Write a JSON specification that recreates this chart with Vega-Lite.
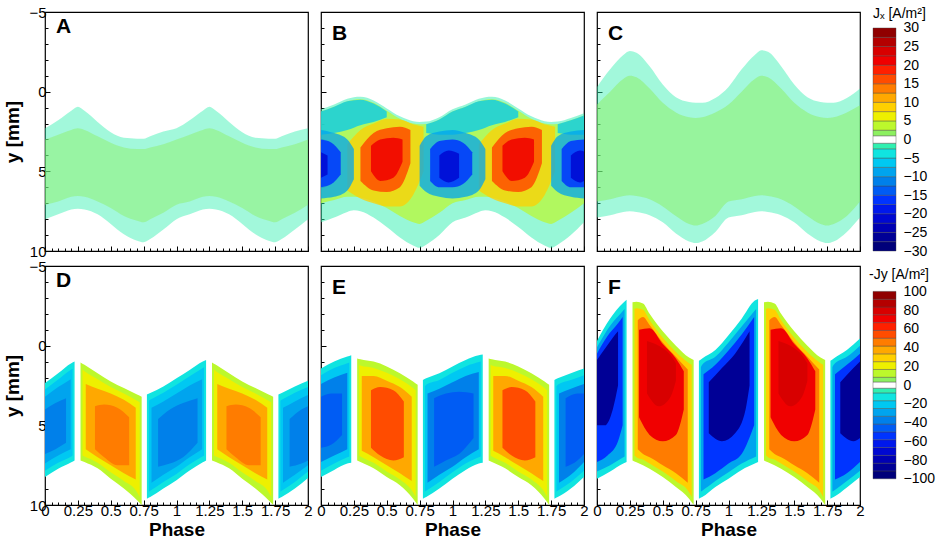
{
  "$schema": "https://vega.github.io/schema/vega-lite/v6.json",
  "padding": {"left": 3, "top": 4, "right": 2, "bottom": 0},
  "background": "white",
  "config": {
    "font": "Liberation Sans",
    "view": {"stroke": "#000", "strokeWidth": 1.2},
    "axis": {"labelFont": "Liberation Sans", "titleFont": "Liberation Sans", "labelFontSize": 15, "labelColor": "#000", "titleColor": "#000", "tickColor": "#000", "tickWidth": 1, "grid": false, "domain": false, "labelFlush": false, "labelOverlap": false, "labelBound": false, "titleFontSize": 19, "titleFontWeight": "bold"},
    "title": {"font": "Liberation Sans", "color": "#000"}
  },
  "datasets": {
    "grp": [
      {"g":"A1","p":"A","l":1,"v":-2,"d":0.45},{"g":"A2","p":"A","l":2,"v":2,"d":0.45},
      {"g":"C1","p":"C","l":1,"v":-2,"d":0.45},{"g":"C2","p":"C","l":2,"v":2,"d":0.5},
      {"g":"B1","p":"B","l":1,"v":-2,"d":0.5},{"g":"B2","p":"B","l":2,"v":3,"d":0.7},
      {"g":"Bh0","p":"B","l":3,"v":-7,"d":0.75},{"g":"Bh1","p":"B","l":3,"v":-7,"d":0.75},{"g":"Bh2","p":"B","l":3,"v":-7,"d":0.75},
      {"g":"Br0","p":"B","l":3,"v":8,"d":0.75},{"g":"Br1","p":"B","l":3,"v":8,"d":0.75},
      {"g":"Bb0","p":"B","l":3,"v":-10,"d":0.75},{"g":"Bb1","p":"B","l":3,"v":-10,"d":0.75},{"g":"Bb2","p":"B","l":3,"v":-10,"d":0.75},
      {"g":"Bq0","p":"B","l":4,"v":17,"d":0.85},{"g":"Bq1","p":"B","l":4,"v":17,"d":0.85},
      {"g":"Bc0","p":"B","l":4,"v":-16,"d":0.85},{"g":"Bc1","p":"B","l":4,"v":-16,"d":0.85},{"g":"Bc2","p":"B","l":4,"v":-16,"d":0.85},
      {"g":"Bs0","p":"B","l":5,"v":21,"d":0.85},{"g":"Bs1","p":"B","l":5,"v":21,"d":0.85},
      {"g":"Bi0","p":"B","l":5,"v":-21,"d":0.85},{"g":"Bi1","p":"B","l":5,"v":-21,"d":0.85},{"g":"Bi2","p":"B","l":5,"v":-21,"d":0.85},
      {"g":"D1a","p":"D","l":1,"v":-10,"d":1},{"g":"D1b","p":"D","l":1,"v":12,"d":1},{"g":"D1c","p":"D","l":1,"v":-10,"d":1},{"g":"D1d","p":"D","l":1,"v":12,"d":1},{"g":"D1e","p":"D","l":1,"v":-10,"d":1},
      {"g":"D2a","p":"D","l":2,"v":-20,"d":1},{"g":"D2b","p":"D","l":2,"v":22,"d":1},{"g":"D2c","p":"D","l":2,"v":-20,"d":1},{"g":"D2d","p":"D","l":2,"v":22,"d":1},{"g":"D2e","p":"D","l":2,"v":-20,"d":1},
      {"g":"D3a","p":"D","l":3,"v":-30,"d":1},{"g":"D3b","p":"D","l":3,"v":38,"d":1},{"g":"D3c","p":"D","l":3,"v":-30,"d":1},{"g":"D3d","p":"D","l":3,"v":38,"d":1},{"g":"D3e","p":"D","l":3,"v":-30,"d":1},
      {"g":"D4a","p":"D","l":4,"v":-40,"d":1},{"g":"D4b","p":"D","l":4,"v":45,"d":1},{"g":"D4c","p":"D","l":4,"v":-40,"d":1},{"g":"D4d","p":"D","l":4,"v":45,"d":1},{"g":"D4e","p":"D","l":4,"v":-40,"d":1},
      {"g":"E1a","p":"E","l":1,"v":-10,"d":1},{"g":"E1b","p":"E","l":1,"v":12,"d":1},{"g":"E1c","p":"E","l":1,"v":-10,"d":1},{"g":"E1d","p":"E","l":1,"v":12,"d":1},{"g":"E1e","p":"E","l":1,"v":-10,"d":1},
      {"g":"E2a","p":"E","l":2,"v":-22,"d":1},{"g":"E2b","p":"E","l":2,"v":22,"d":1},{"g":"E2c","p":"E","l":2,"v":-22,"d":1},{"g":"E2d","p":"E","l":2,"v":22,"d":1},{"g":"E2e","p":"E","l":2,"v":-22,"d":1},
      {"g":"E3a","p":"E","l":3,"v":-38,"d":1},{"g":"E3b","p":"E","l":3,"v":40,"d":1},{"g":"E3c","p":"E","l":3,"v":-38,"d":1},{"g":"E3d","p":"E","l":3,"v":40,"d":1},{"g":"E3e","p":"E","l":3,"v":-38,"d":1},
      {"g":"E4a","p":"E","l":4,"v":-48,"d":1},{"g":"E4b","p":"E","l":4,"v":55,"d":1},{"g":"E4c","p":"E","l":4,"v":-48,"d":1},{"g":"E4d","p":"E","l":4,"v":55,"d":1},{"g":"E4e","p":"E","l":4,"v":-48,"d":1},
      {"g":"F1a","p":"F","l":1,"v":-12,"d":1},{"g":"F1b","p":"F","l":1,"v":12,"d":1},{"g":"F1c","p":"F","l":1,"v":-12,"d":1},{"g":"F1d","p":"F","l":1,"v":12,"d":1},{"g":"F1e","p":"F","l":1,"v":-12,"d":1},
      {"g":"F2a","p":"F","l":2,"v":-30,"d":1},{"g":"F2b","p":"F","l":2,"v":28,"d":1},{"g":"F2c","p":"F","l":2,"v":-30,"d":1},{"g":"F2d","p":"F","l":2,"v":28,"d":1},{"g":"F2e","p":"F","l":2,"v":-30,"d":1},
      {"g":"F3a","p":"F","l":3,"v":-55,"d":1},{"g":"F3b","p":"F","l":3,"v":48,"d":1},{"g":"F3c","p":"F","l":3,"v":-55,"d":1},{"g":"F3d","p":"F","l":3,"v":48,"d":1},{"g":"F3e","p":"F","l":3,"v":-55,"d":1},
      {"g":"F4a","p":"F","l":4,"v":-85,"d":1},{"g":"F4b","p":"F","l":4,"v":70,"d":1},{"g":"F4c","p":"F","l":4,"v":-85,"d":1},{"g":"F4d","p":"F","l":4,"v":70,"d":1},{"g":"F4e","p":"F","l":4,"v":-85,"d":1},
      {"g":"F5b","p":"F","l":5,"v":80,"d":1},{"g":"F5d","p":"F","l":5,"v":80,"d":1}
    ],
    "pts": [
      {"g":"A1","x":0,"y":2.3,"y2":8.0},{"g":"A1","x":0.1,"y":1.8,"y2":7.7},{"g":"A1","x":0.2,"y":1.2,"y2":7.4},{"g":"A1","x":0.25,"y":0.95,"y2":7.35},{"g":"A1","x":0.3,"y":1.2,"y2":7.4},{"g":"A1","x":0.4,"y":1.9,"y2":7.7},{"g":"A1","x":0.5,"y":2.55,"y2":8.3},{"g":"A1","x":0.6,"y":2.9,"y2":8.95},{"g":"A1","x":0.7,"y":2.95,"y2":9.35},{"g":"A1","x":0.75,"y":2.95,"y2":9.45},{"g":"A1","x":0.8,"y":2.8,"y2":9.25},{"g":"A1","x":0.9,"y":2.5,"y2":8.65},
      {"g":"A1","x":1,"y":2.3,"y2":8.0},{"g":"A1","x":1.1,"y":1.8,"y2":7.7},{"g":"A1","x":1.2,"y":1.2,"y2":7.4},{"g":"A1","x":1.25,"y":0.95,"y2":7.35},{"g":"A1","x":1.3,"y":1.2,"y2":7.4},{"g":"A1","x":1.4,"y":1.9,"y2":7.7},{"g":"A1","x":1.5,"y":2.55,"y2":8.3},{"g":"A1","x":1.6,"y":2.9,"y2":8.95},{"g":"A1","x":1.7,"y":2.95,"y2":9.35},{"g":"A1","x":1.75,"y":2.95,"y2":9.45},{"g":"A1","x":1.8,"y":2.8,"y2":9.25},{"g":"A1","x":1.9,"y":2.5,"y2":8.65},{"g":"A1","x":2,"y":2.3,"y2":8.0},
      {"g":"A2","x":0,"y":3.0,"y2":7.1},{"g":"A2","x":0.1,"y":2.7,"y2":6.9},{"g":"A2","x":0.2,"y":2.4,"y2":6.6},{"g":"A2","x":0.25,"y":2.3,"y2":6.55},{"g":"A2","x":0.3,"y":2.4,"y2":6.6},{"g":"A2","x":0.4,"y":2.8,"y2":6.9},{"g":"A2","x":0.5,"y":3.2,"y2":7.3},{"g":"A2","x":0.6,"y":3.5,"y2":7.8},{"g":"A2","x":0.7,"y":3.6,"y2":8.1},{"g":"A2","x":0.75,"y":3.6,"y2":8.2},{"g":"A2","x":0.8,"y":3.5,"y2":8.0},{"g":"A2","x":0.9,"y":3.3,"y2":7.6},
      {"g":"A2","x":1,"y":3.0,"y2":7.1},{"g":"A2","x":1.1,"y":2.7,"y2":6.9},{"g":"A2","x":1.2,"y":2.4,"y2":6.6},{"g":"A2","x":1.25,"y":2.3,"y2":6.55},{"g":"A2","x":1.3,"y":2.4,"y2":6.6},{"g":"A2","x":1.4,"y":2.8,"y2":6.9},{"g":"A2","x":1.5,"y":3.2,"y2":7.3},{"g":"A2","x":1.6,"y":3.5,"y2":7.8},{"g":"A2","x":1.7,"y":3.6,"y2":8.1},{"g":"A2","x":1.75,"y":3.6,"y2":8.2},{"g":"A2","x":1.8,"y":3.5,"y2":8.0},{"g":"A2","x":1.9,"y":3.3,"y2":7.6},{"g":"A2","x":2,"y":3.0,"y2":7.1},
      {"g":"C1","x":0,"y":-0.3,"y2":7.9},{"g":"C1","x":0.1,"y":-1.4,"y2":7.75},{"g":"C1","x":0.2,"y":-2.3,"y2":7.55},{"g":"C1","x":0.25,"y":-2.55,"y2":7.5},{"g":"C1","x":0.3,"y":-2.45,"y2":7.55},{"g":"C1","x":0.4,"y":-1.6,"y2":7.75},{"g":"C1","x":0.5,"y":-0.45,"y2":8.2},{"g":"C1","x":0.6,"y":0.35,"y2":8.9},{"g":"C1","x":0.7,"y":0.65,"y2":9.4},{"g":"C1","x":0.75,"y":0.7,"y2":9.5},{"g":"C1","x":0.8,"y":0.7,"y2":9.4},{"g":"C1","x":0.9,"y":0.4,"y2":8.8},
      {"g":"C1","x":1,"y":-0.3,"y2":7.9},{"g":"C1","x":1.1,"y":-1.4,"y2":7.75},{"g":"C1","x":1.2,"y":-2.3,"y2":7.55},{"g":"C1","x":1.25,"y":-2.6,"y2":7.5},{"g":"C1","x":1.3,"y":-2.5,"y2":7.55},{"g":"C1","x":1.4,"y":-1.6,"y2":7.75},{"g":"C1","x":1.5,"y":-0.45,"y2":8.2},{"g":"C1","x":1.6,"y":0.35,"y2":8.9},{"g":"C1","x":1.7,"y":0.65,"y2":9.4},{"g":"C1","x":1.75,"y":0.7,"y2":9.5},{"g":"C1","x":1.8,"y":0.7,"y2":9.4},{"g":"C1","x":1.9,"y":0.4,"y2":8.8},{"g":"C1","x":2,"y":-0.2,"y2":7.9},
      {"g":"C2","x":0,"y":0.8,"y2":6.9},{"g":"C2","x":0.1,"y":0.0,"y2":6.75},{"g":"C2","x":0.2,"y":-0.8,"y2":6.55},{"g":"C2","x":0.25,"y":-1.0,"y2":6.5},{"g":"C2","x":0.3,"y":-0.9,"y2":6.55},{"g":"C2","x":0.4,"y":-0.2,"y2":6.75},{"g":"C2","x":0.5,"y":0.7,"y2":7.2},{"g":"C2","x":0.6,"y":1.3,"y2":7.8},{"g":"C2","x":0.7,"y":1.6,"y2":8.3},{"g":"C2","x":0.75,"y":1.65,"y2":8.4},{"g":"C2","x":0.8,"y":1.6,"y2":8.3},{"g":"C2","x":0.9,"y":1.3,"y2":7.8},
      {"g":"C2","x":1,"y":0.8,"y2":6.9},{"g":"C2","x":1.1,"y":0.0,"y2":6.75},{"g":"C2","x":1.2,"y":-0.8,"y2":6.55},{"g":"C2","x":1.25,"y":-1.0,"y2":6.5},{"g":"C2","x":1.3,"y":-0.9,"y2":6.55},{"g":"C2","x":1.4,"y":-0.2,"y2":6.75},{"g":"C2","x":1.5,"y":0.7,"y2":7.2},{"g":"C2","x":1.6,"y":1.3,"y2":7.8},{"g":"C2","x":1.7,"y":1.6,"y2":8.3},{"g":"C2","x":1.75,"y":1.65,"y2":8.4},{"g":"C2","x":1.8,"y":1.6,"y2":8.3},{"g":"C2","x":1.9,"y":1.3,"y2":7.8},{"g":"C2","x":2,"y":0.85,"y2":6.9},
      {"g":"B1","x":0,"y":1.1,"y2":8.2},{"g":"B1","x":0.1,"y":0.8,"y2":7.9},{"g":"B1","x":0.2,"y":0.45,"y2":7.55},{"g":"B1","x":0.25,"y":0.35,"y2":7.45},{"g":"B1","x":0.3,"y":0.32,"y2":7.5},{"g":"B1","x":0.4,"y":0.55,"y2":7.9},{"g":"B1","x":0.5,"y":1.05,"y2":8.5},{"g":"B1","x":0.6,"y":1.55,"y2":9.15},{"g":"B1","x":0.7,"y":1.85,"y2":9.65},{"g":"B1","x":0.75,"y":1.9,"y2":9.8},{"g":"B1","x":0.8,"y":1.88,"y2":9.6},{"g":"B1","x":0.9,"y":1.6,"y2":9.0},
      {"g":"B1","x":1,"y":1.1,"y2":8.2},{"g":"B1","x":1.1,"y":0.8,"y2":7.9},{"g":"B1","x":1.2,"y":0.45,"y2":7.55},{"g":"B1","x":1.25,"y":0.35,"y2":7.45},{"g":"B1","x":1.3,"y":0.32,"y2":7.5},{"g":"B1","x":1.4,"y":0.55,"y2":7.9},{"g":"B1","x":1.5,"y":1.05,"y2":8.5},{"g":"B1","x":1.6,"y":1.55,"y2":9.15},{"g":"B1","x":1.7,"y":1.85,"y2":9.65},{"g":"B1","x":1.75,"y":1.9,"y2":9.8},{"g":"B1","x":1.8,"y":1.88,"y2":9.6},{"g":"B1","x":1.9,"y":1.65,"y2":9.0},{"g":"B1","x":2,"y":1.35,"y2":8.2},
      {"g":"B2","x":0,"y":1.25,"y2":7.0},{"g":"B2","x":0.1,"y":0.95,"y2":6.8},{"g":"B2","x":0.2,"y":0.6,"y2":6.6},{"g":"B2","x":0.25,"y":0.5,"y2":6.6},{"g":"B2","x":0.3,"y":0.47,"y2":6.65},{"g":"B2","x":0.4,"y":0.7,"y2":6.9},{"g":"B2","x":0.5,"y":1.2,"y2":7.3},{"g":"B2","x":0.6,"y":1.7,"y2":7.8},{"g":"B2","x":0.7,"y":2.0,"y2":8.2},{"g":"B2","x":0.75,"y":2.05,"y2":8.3},{"g":"B2","x":0.8,"y":2.03,"y2":8.1},{"g":"B2","x":0.9,"y":1.75,"y2":7.6},
      {"g":"B2","x":1,"y":1.25,"y2":7.0},{"g":"B2","x":1.1,"y":0.95,"y2":6.8},{"g":"B2","x":1.2,"y":0.6,"y2":6.6},{"g":"B2","x":1.25,"y":0.5,"y2":6.6},{"g":"B2","x":1.3,"y":0.47,"y2":6.65},{"g":"B2","x":1.4,"y":0.7,"y2":6.9},{"g":"B2","x":1.5,"y":1.2,"y2":7.3},{"g":"B2","x":1.6,"y":1.7,"y2":7.8},{"g":"B2","x":1.7,"y":2.0,"y2":8.2},{"g":"B2","x":1.75,"y":2.05,"y2":8.3},{"g":"B2","x":1.8,"y":2.03,"y2":8.1},{"g":"B2","x":1.9,"y":1.8,"y2":7.6},{"g":"B2","x":2,"y":1.5,"y2":7.0},
      {"g":"Bh0","x":0,"y":1.25,"y2":2.7},{"g":"Bh0","x":0.1,"y":0.95,"y2":2.6},{"g":"Bh0","x":0.2,"y":0.6,"y2":2.4},{"g":"Bh0","x":0.3,"y":0.5,"y2":2.1},{"g":"Bh0","x":0.4,"y":0.75,"y2":1.9},{"g":"Bh0","x":0.5,"y":1.25,"y2":1.6},
      {"g":"Bh1","x":0.8,"y":2.05,"y2":2.6},{"g":"Bh1","x":0.9,"y":1.75,"y2":2.7},{"g":"Bh1","x":1,"y":1.25,"y2":2.7},{"g":"Bh1","x":1.1,"y":0.95,"y2":2.6},{"g":"Bh1","x":1.2,"y":0.6,"y2":2.4},{"g":"Bh1","x":1.3,"y":0.5,"y2":2.1},{"g":"Bh1","x":1.4,"y":0.75,"y2":1.9},{"g":"Bh1","x":1.5,"y":1.25,"y2":1.6},
      {"g":"Bh2","x":1.8,"y":2.05,"y2":2.6},{"g":"Bh2","x":1.9,"y":1.8,"y2":2.7},{"g":"Bh2","x":2,"y":1.5,"y2":2.7},
      {"g":"Br0","x":0.2,"y":3.3,"y2":6.2},{"g":"Br0","x":0.3,"y":2.4,"y2":6.7},{"g":"Br0","x":0.4,"y":2.0,"y2":7.0},{"g":"Br0","x":0.5,"y":1.7,"y2":7.2},{"g":"Br0","x":0.6,"y":1.75,"y2":7.2},{"g":"Br0","x":0.7,"y":2.05,"y2":6.5},{"g":"Br0","x":0.78,"y":2.2,"y2":5.0},
      {"g":"Br1","x":1.2,"y":3.3,"y2":6.2},{"g":"Br1","x":1.3,"y":2.4,"y2":6.7},{"g":"Br1","x":1.4,"y":2.0,"y2":7.0},{"g":"Br1","x":1.5,"y":1.7,"y2":7.2},{"g":"Br1","x":1.6,"y":1.75,"y2":7.2},{"g":"Br1","x":1.7,"y":2.05,"y2":6.5},{"g":"Br1","x":1.78,"y":2.2,"y2":5.0},
      {"g":"Bb0","x":0,"y":2.4,"y2":6.7},{"g":"Bb0","x":0.1,"y":2.6,"y2":6.6},{"g":"Bb0","x":0.2,"y":3.0,"y2":6.2},{"g":"Bb0","x":0.25,"y":3.6,"y2":5.5},
      {"g":"Bb1","x":0.75,"y":3.4,"y2":5.9},{"g":"Bb1","x":0.8,"y":2.8,"y2":6.3},{"g":"Bb1","x":0.9,"y":2.5,"y2":6.6},{"g":"Bb1","x":1,"y":2.4,"y2":6.7},{"g":"Bb1","x":1.1,"y":2.6,"y2":6.6},{"g":"Bb1","x":1.2,"y":3.0,"y2":6.2},{"g":"Bb1","x":1.25,"y":3.6,"y2":5.5},
      {"g":"Bb2","x":1.75,"y":3.4,"y2":5.9},{"g":"Bb2","x":1.8,"y":2.8,"y2":6.3},{"g":"Bb2","x":1.9,"y":2.5,"y2":6.6},{"g":"Bb2","x":2,"y":2.4,"y2":6.7},
      {"g":"Bq0","x":0.3,"y":3.5,"y2":5.6},{"g":"Bq0","x":0.4,"y":2.6,"y2":6.2},{"g":"Bq0","x":0.5,"y":2.3,"y2":6.3},{"g":"Bq0","x":0.6,"y":2.2,"y2":6.0},{"g":"Bq0","x":0.68,"y":2.4,"y2":4.5},
      {"g":"Bq1","x":1.3,"y":3.5,"y2":5.6},{"g":"Bq1","x":1.4,"y":2.6,"y2":6.2},{"g":"Bq1","x":1.5,"y":2.3,"y2":6.3},{"g":"Bq1","x":1.6,"y":2.2,"y2":6.0},{"g":"Bq1","x":1.68,"y":2.4,"y2":4.5},
      {"g":"Bc0","x":0,"y":3.0,"y2":6.0},{"g":"Bc0","x":0.08,"y":3.2,"y2":5.8},{"g":"Bc0","x":0.15,"y":3.8,"y2":5.2},
      {"g":"Bc1","x":0.83,"y":3.6,"y2":5.6},{"g":"Bc1","x":0.9,"y":3.1,"y2":6.0},{"g":"Bc1","x":1,"y":3.0,"y2":6.0},{"g":"Bc1","x":1.08,"y":3.2,"y2":5.8},{"g":"Bc1","x":1.15,"y":3.8,"y2":5.2},
      {"g":"Bc2","x":1.83,"y":3.6,"y2":5.6},{"g":"Bc2","x":1.9,"y":3.1,"y2":6.0},{"g":"Bc2","x":2,"y":3.0,"y2":6.0},
      {"g":"Bs0","x":0.38,"y":3.4,"y2":5.0},{"g":"Bs0","x":0.45,"y":3.0,"y2":5.6},{"g":"Bs0","x":0.55,"y":2.9,"y2":5.4},{"g":"Bs0","x":0.62,"y":3.0,"y2":4.4},
      {"g":"Bs1","x":1.38,"y":3.4,"y2":5.0},{"g":"Bs1","x":1.45,"y":3.0,"y2":5.6},{"g":"Bs1","x":1.55,"y":2.9,"y2":5.4},{"g":"Bs1","x":1.62,"y":3.0,"y2":4.4},
      {"g":"Bi0","x":0,"y":3.8,"y2":5.4},{"g":"Bi0","x":0.05,"y":4.0,"y2":5.2},
      {"g":"Bi1","x":0.9,"y":4.0,"y2":5.4},{"g":"Bi1","x":0.97,"y":3.7,"y2":5.7},{"g":"Bi1","x":1.05,"y":3.9,"y2":5.4},
      {"g":"Bi2","x":1.9,"y":4.0,"y2":5.4},{"g":"Bi2","x":1.97,"y":3.7,"y2":5.7},{"g":"Bi2","x":2,"y":3.75,"y2":5.6},

      {"g":"D1a","x":0,"y":2.35,"y2":8.25},{"g":"D1a","x":0.1,"y":1.73,"y2":7.73},{"g":"D1a","x":0.2,"y":1.1,"y2":7.32},{"g":"D1a","x":0.225,"y":1.0,"y2":7.2},
      {"g":"D1b","x":0.27,"y":1.05,"y2":7.2},{"g":"D1b","x":0.3,"y":1.2,"y2":7.3},{"g":"D1b","x":0.4,"y":1.73,"y2":7.7},{"g":"D1b","x":0.5,"y":2.25,"y2":8.35},{"g":"D1b","x":0.6,"y":2.66,"y2":8.97},{"g":"D1b","x":0.7,"y":3.07,"y2":9.7},{"g":"D1b","x":0.735,"y":3.2,"y2":10},
      {"g":"D1c","x":0.775,"y":3.07,"y2":9.6},{"g":"D1c","x":0.8,"y":2.97,"y2":9.5},{"g":"D1c","x":0.9,"y":2.56,"y2":8.97},{"g":"D1c","x":1,"y":2.04,"y2":8.45},{"g":"D1c","x":1.1,"y":1.52,"y2":7.84},{"g":"D1c","x":1.2,"y":1.0,"y2":7.32},{"g":"D1c","x":1.225,"y":0.9,"y2":7.2},
      {"g":"D1d","x":1.27,"y":1.05,"y2":7.2},{"g":"D1d","x":1.3,"y":1.2,"y2":7.3},{"g":"D1d","x":1.4,"y":1.73,"y2":7.7},{"g":"D1d","x":1.5,"y":2.25,"y2":8.35},{"g":"D1d","x":1.6,"y":2.66,"y2":8.97},{"g":"D1d","x":1.7,"y":3.07,"y2":9.7},{"g":"D1d","x":1.735,"y":3.2,"y2":10},
      {"g":"D1e","x":1.775,"y":3.07,"y2":9.6},{"g":"D1e","x":1.8,"y":2.97,"y2":9.5},{"g":"D1e","x":1.9,"y":2.56,"y2":8.97},{"g":"D1e","x":2,"y":2.2,"y2":8.3},
      {"g":"D2a","x":0,"y":2.75,"y2":7.85},{"g":"D2a","x":0.1,"y":2.13,"y2":7.35},{"g":"D2a","x":0.2,"y":1.5,"y2":6.95},{"g":"D2a","x":0.21,"y":1.45,"y2":6.9},
      {"g":"D2b","x":0.285,"y":1.5,"y2":6.9},{"g":"D2b","x":0.3,"y":1.6,"y2":6.95},{"g":"D2b","x":0.4,"y":2.1,"y2":7.35},{"g":"D2b","x":0.5,"y":2.6,"y2":7.95},{"g":"D2b","x":0.6,"y":3.0,"y2":8.5},{"g":"D2b","x":0.7,"y":3.45,"y2":9.2},{"g":"D2b","x":0.72,"y":3.55,"y2":9.5},
      {"g":"D2c","x":0.79,"y":3.45,"y2":9.15},{"g":"D2c","x":0.8,"y":3.4,"y2":9.1},{"g":"D2c","x":0.9,"y":2.95,"y2":8.55},{"g":"D2c","x":1,"y":2.45,"y2":8.05},{"g":"D2c","x":1.1,"y":1.92,"y2":7.45},{"g":"D2c","x":1.21,"y":1.35,"y2":6.9},
      {"g":"D2d","x":1.285,"y":1.5,"y2":6.9},{"g":"D2d","x":1.3,"y":1.6,"y2":6.95},{"g":"D2d","x":1.4,"y":2.1,"y2":7.35},{"g":"D2d","x":1.5,"y":2.6,"y2":7.95},{"g":"D2d","x":1.6,"y":3.0,"y2":8.5},{"g":"D2d","x":1.7,"y":3.45,"y2":9.2},{"g":"D2d","x":1.72,"y":3.55,"y2":9.5},
      {"g":"D2e","x":1.79,"y":3.45,"y2":9.15},{"g":"D2e","x":1.8,"y":3.4,"y2":9.1},{"g":"D2e","x":1.9,"y":2.95,"y2":8.55},{"g":"D2e","x":2,"y":2.6,"y2":7.9},
      {"g":"D3a","x":0,"y":3.2,"y2":7.4},{"g":"D3a","x":0.1,"y":2.6,"y2":6.9},{"g":"D3a","x":0.195,"y":2.1,"y2":6.5},
      {"g":"D3b","x":0.31,"y":2.4,"y2":6.5},{"g":"D3b","x":0.4,"y":2.7,"y2":7.0},{"g":"D3b","x":0.5,"y":3.0,"y2":7.5},{"g":"D3b","x":0.6,"y":3.4,"y2":8.0},{"g":"D3b","x":0.69,"y":3.9,"y2":8.4},
      {"g":"D3c","x":0.81,"y":3.9,"y2":8.6},{"g":"D3c","x":0.9,"y":3.5,"y2":8.1},{"g":"D3c","x":1,"y":3.0,"y2":7.6},{"g":"D3c","x":1.1,"y":2.5,"y2":7.0},{"g":"D3c","x":1.195,"y":2.1,"y2":6.5},
      {"g":"D3d","x":1.31,"y":2.4,"y2":6.5},{"g":"D3d","x":1.4,"y":2.7,"y2":7.0},{"g":"D3d","x":1.5,"y":3.0,"y2":7.5},{"g":"D3d","x":1.6,"y":3.4,"y2":8.0},{"g":"D3d","x":1.69,"y":3.9,"y2":8.4},
      {"g":"D3e","x":1.81,"y":3.9,"y2":8.6},{"g":"D3e","x":1.9,"y":3.5,"y2":8.1},{"g":"D3e","x":2,"y":3.1,"y2":7.5},
      {"g":"D4a","x":0,"y":4.0,"y2":6.8},{"g":"D4a","x":0.08,"y":3.6,"y2":6.5},{"g":"D4a","x":0.16,"y":3.3,"y2":6.1},
      {"g":"D4b","x":0.38,"y":3.8,"y2":6.5},{"g":"D4b","x":0.45,"y":3.7,"y2":7.0},{"g":"D4b","x":0.55,"y":3.9,"y2":7.5},{"g":"D4b","x":0.64,"y":4.5,"y2":7.5},
      {"g":"D4c","x":0.86,"y":4.6,"y2":7.6},{"g":"D4c","x":0.95,"y":4.0,"y2":7.4},{"g":"D4c","x":1.05,"y":3.6,"y2":7.0},{"g":"D4c","x":1.16,"y":3.3,"y2":6.1},
      {"g":"D4d","x":1.38,"y":3.8,"y2":6.5},{"g":"D4d","x":1.45,"y":3.7,"y2":7.0},{"g":"D4d","x":1.55,"y":3.9,"y2":7.5},{"g":"D4d","x":1.64,"y":4.5,"y2":7.5},
      {"g":"D4e","x":1.86,"y":4.6,"y2":7.6},{"g":"D4e","x":1.95,"y":4.0,"y2":7.4},{"g":"D4e","x":2,"y":3.8,"y2":7.2},

      {"g":"E1a","x":0,"y":1.43,"y2":8.24},{"g":"E1a","x":0.1,"y":1.0,"y2":7.8},{"g":"E1a","x":0.2,"y":0.68,"y2":7.4},{"g":"E1a","x":0.23,"y":0.6,"y2":7.35},
      {"g":"E1b","x":0.275,"y":0.8,"y2":7.2},{"g":"E1b","x":0.3,"y":0.85,"y2":7.3},{"g":"E1b","x":0.4,"y":1.0,"y2":7.7},{"g":"E1b","x":0.5,"y":1.3,"y2":8.25},{"g":"E1b","x":0.6,"y":1.73,"y2":8.76},{"g":"E1b","x":0.7,"y":2.25,"y2":9.6},{"g":"E1b","x":0.735,"y":2.46,"y2":10},
      {"g":"E1c","x":0.775,"y":2.15,"y2":9.6},{"g":"E1c","x":0.8,"y":2.05,"y2":9.5},{"g":"E1c","x":0.9,"y":1.73,"y2":8.97},{"g":"E1c","x":1,"y":1.3,"y2":8.35},{"g":"E1c","x":1.1,"y":0.9,"y2":7.8},{"g":"E1c","x":1.2,"y":0.6,"y2":7.4},{"g":"E1c","x":1.23,"y":0.56,"y2":7.35},
      {"g":"E1d","x":1.275,"y":0.8,"y2":7.2},{"g":"E1d","x":1.3,"y":0.85,"y2":7.3},{"g":"E1d","x":1.4,"y":1.0,"y2":7.7},{"g":"E1d","x":1.5,"y":1.3,"y2":8.25},{"g":"E1d","x":1.6,"y":1.73,"y2":8.76},{"g":"E1d","x":1.7,"y":2.25,"y2":9.6},{"g":"E1d","x":1.735,"y":2.46,"y2":10},
      {"g":"E1e","x":1.775,"y":2.15,"y2":9.6},{"g":"E1e","x":1.8,"y":2.05,"y2":9.5},{"g":"E1e","x":1.9,"y":1.73,"y2":8.97},{"g":"E1e","x":2,"y":1.43,"y2":8.24},
      {"g":"E2a","x":0,"y":1.85,"y2":7.85},{"g":"E2a","x":0.1,"y":1.4,"y2":7.4},{"g":"E2a","x":0.2,"y":1.1,"y2":7.0},{"g":"E2a","x":0.215,"y":1.05,"y2":6.95},
      {"g":"E2b","x":0.29,"y":1.2,"y2":6.9},{"g":"E2b","x":0.3,"y":1.25,"y2":6.95},{"g":"E2b","x":0.4,"y":1.4,"y2":7.35},{"g":"E2b","x":0.5,"y":1.7,"y2":7.9},{"g":"E2b","x":0.6,"y":2.1,"y2":8.4},{"g":"E2b","x":0.7,"y":2.65,"y2":9.2},{"g":"E2b","x":0.72,"y":2.8,"y2":9.5},
      {"g":"E2c","x":0.79,"y":2.55,"y2":9.15},{"g":"E2c","x":0.8,"y":2.45,"y2":9.1},{"g":"E2c","x":0.9,"y":2.15,"y2":8.55},{"g":"E2c","x":1,"y":1.7,"y2":7.95},{"g":"E2c","x":1.1,"y":1.3,"y2":7.4},{"g":"E2c","x":1.215,"y":1.0,"y2":6.95},
      {"g":"E2d","x":1.29,"y":1.2,"y2":6.9},{"g":"E2d","x":1.3,"y":1.25,"y2":6.95},{"g":"E2d","x":1.4,"y":1.4,"y2":7.35},{"g":"E2d","x":1.5,"y":1.7,"y2":7.9},{"g":"E2d","x":1.6,"y":2.1,"y2":8.4},{"g":"E2d","x":1.7,"y":2.65,"y2":9.2},{"g":"E2d","x":1.72,"y":2.8,"y2":9.5},
      {"g":"E2e","x":1.79,"y":2.55,"y2":9.15},{"g":"E2e","x":1.8,"y":2.45,"y2":9.1},{"g":"E2e","x":1.9,"y":2.15,"y2":8.55},{"g":"E2e","x":2,"y":1.85,"y2":7.85},
      {"g":"E3a","x":0,"y":2.4,"y2":7.3},{"g":"E3a","x":0.1,"y":2.0,"y2":6.9},{"g":"E3a","x":0.2,"y":1.7,"y2":6.5},
      {"g":"E3b","x":0.31,"y":1.9,"y2":6.6},{"g":"E3b","x":0.4,"y":1.9,"y2":7.0},{"g":"E3b","x":0.5,"y":2.2,"y2":7.5},{"g":"E3b","x":0.6,"y":2.6,"y2":8.0},{"g":"E3b","x":0.69,"y":3.2,"y2":8.5},
      {"g":"E3c","x":0.81,"y":3.0,"y2":8.6},{"g":"E3c","x":0.9,"y":2.7,"y2":8.1},{"g":"E3c","x":1,"y":2.3,"y2":7.6},{"g":"E3c","x":1.1,"y":1.9,"y2":7.0},{"g":"E3c","x":1.2,"y":1.65,"y2":6.5},
      {"g":"E3d","x":1.31,"y":1.9,"y2":6.6},{"g":"E3d","x":1.4,"y":1.9,"y2":7.0},{"g":"E3d","x":1.5,"y":2.2,"y2":7.5},{"g":"E3d","x":1.6,"y":2.6,"y2":8.0},{"g":"E3d","x":1.69,"y":3.2,"y2":8.5},
      {"g":"E3e","x":1.81,"y":3.0,"y2":8.6},{"g":"E3e","x":1.9,"y":2.7,"y2":8.1},{"g":"E3e","x":2,"y":2.4,"y2":7.3},
      {"g":"E4a","x":0,"y":3.2,"y2":6.4},{"g":"E4a","x":0.08,"y":3.0,"y2":6.2},{"g":"E4a","x":0.16,"y":3.0,"y2":5.6},
      {"g":"E4b","x":0.38,"y":2.8,"y2":6.4},{"g":"E4b","x":0.45,"y":2.6,"y2":6.9},{"g":"E4b","x":0.55,"y":2.8,"y2":7.2},{"g":"E4b","x":0.63,"y":3.5,"y2":7.0},
      {"g":"E4c","x":0.86,"y":3.3,"y2":7.6},{"g":"E4c","x":0.95,"y":3.0,"y2":7.2},{"g":"E4c","x":1.05,"y":2.9,"y2":6.8},{"g":"E4c","x":1.16,"y":3.0,"y2":5.8},
      {"g":"E4d","x":1.38,"y":2.8,"y2":6.4},{"g":"E4d","x":1.45,"y":2.6,"y2":6.9},{"g":"E4d","x":1.55,"y":2.8,"y2":7.2},{"g":"E4d","x":1.63,"y":3.5,"y2":7.0},
      {"g":"E4e","x":1.86,"y":3.3,"y2":7.6},{"g":"E4e","x":1.95,"y":3.0,"y2":7.2},{"g":"E4e","x":2,"y":3.0,"y2":6.8},

      {"g":"F1a","x":0,"y":-0.3,"y2":8.36},{"g":"F1a","x":0.1,"y":-1.7,"y2":7.9},{"g":"F1a","x":0.2,"y":-2.7,"y2":7.4},{"g":"F1a","x":0.225,"y":-2.88,"y2":7.3},
      {"g":"F1b","x":0.27,"y":-2.72,"y2":7.2},{"g":"F1b","x":0.3,"y":-2.75,"y2":7.32},{"g":"F1b","x":0.35,"y":-2.65,"y2":7.5},{"g":"F1b","x":0.4,"y":-2.0,"y2":7.73},{"g":"F1b","x":0.5,"y":-0.9,"y2":8.25},{"g":"F1b","x":0.6,"y":0.0,"y2":8.87},{"g":"F1b","x":0.7,"y":0.75,"y2":9.6},{"g":"F1b","x":0.735,"y":0.9,"y2":10},
      {"g":"F1c","x":0.775,"y":0.95,"y2":9.6},{"g":"F1c","x":0.8,"y":0.8,"y2":9.5},{"g":"F1c","x":0.9,"y":0.27,"y2":8.87},{"g":"F1c","x":1,"y":-0.66,"y2":8.35},{"g":"F1c","x":1.1,"y":-1.69,"y2":7.8},{"g":"F1c","x":1.2,"y":-2.83,"y2":7.4},{"g":"F1c","x":1.225,"y":-2.93,"y2":7.3},
      {"g":"F1d","x":1.27,"y":-2.72,"y2":7.2},{"g":"F1d","x":1.3,"y":-2.75,"y2":7.32},{"g":"F1d","x":1.35,"y":-2.65,"y2":7.5},{"g":"F1d","x":1.4,"y":-2.0,"y2":7.73},{"g":"F1d","x":1.5,"y":-0.9,"y2":8.25},{"g":"F1d","x":1.6,"y":0.0,"y2":8.87},{"g":"F1d","x":1.7,"y":0.75,"y2":9.6},{"g":"F1d","x":1.735,"y":0.9,"y2":10},
      {"g":"F1e","x":1.775,"y":0.95,"y2":9.6},{"g":"F1e","x":1.8,"y":0.8,"y2":9.5},{"g":"F1e","x":1.9,"y":0.27,"y2":8.9},{"g":"F1e","x":2,"y":-0.45,"y2":8.24},
      {"g":"F2a","x":0,"y":0.1,"y2":7.9},{"g":"F2a","x":0.1,"y":-1.25,"y2":7.5},{"g":"F2a","x":0.2,"y":-2.2,"y2":7.0},{"g":"F2a","x":0.21,"y":-2.3,"y2":6.95},
      {"g":"F2b","x":0.285,"y":-2.3,"y2":6.9},{"g":"F2b","x":0.3,"y":-2.35,"y2":7.0},{"g":"F2b","x":0.35,"y":-2.25,"y2":7.15},{"g":"F2b","x":0.4,"y":-1.6,"y2":7.4},{"g":"F2b","x":0.5,"y":-0.5,"y2":7.9},{"g":"F2b","x":0.6,"y":0.4,"y2":8.5},{"g":"F2b","x":0.7,"y":1.1,"y2":9.2},{"g":"F2b","x":0.72,"y":1.2,"y2":9.5},
      {"g":"F2c","x":0.79,"y":1.35,"y2":9.15},{"g":"F2c","x":0.8,"y":1.2,"y2":9.1},{"g":"F2c","x":0.9,"y":0.7,"y2":8.5},{"g":"F2c","x":1,"y":-0.2,"y2":7.95},{"g":"F2c","x":1.1,"y":-1.2,"y2":7.4},{"g":"F2c","x":1.21,"y":-2.3,"y2":6.95},
      {"g":"F2d","x":1.285,"y":-2.3,"y2":6.9},{"g":"F2d","x":1.3,"y":-2.35,"y2":7.0},{"g":"F2d","x":1.35,"y":-2.25,"y2":7.15},{"g":"F2d","x":1.4,"y":-1.6,"y2":7.4},{"g":"F2d","x":1.5,"y":-0.5,"y2":7.9},{"g":"F2d","x":1.6,"y":0.4,"y2":8.5},{"g":"F2d","x":1.7,"y":1.1,"y2":9.2},{"g":"F2d","x":1.72,"y":1.2,"y2":9.5},
      {"g":"F2e","x":1.79,"y":1.35,"y2":9.15},{"g":"F2e","x":1.8,"y":1.2,"y2":9.1},{"g":"F2e","x":1.9,"y":0.7,"y2":8.5},{"g":"F2e","x":2,"y":0.0,"y2":7.85},
      {"g":"F3a","x":0,"y":0.5,"y2":7.3},{"g":"F3a","x":0.08,"y":-0.6,"y2":6.9},{"g":"F3a","x":0.16,"y":-1.4,"y2":6.0},{"g":"F3a","x":0.195,"y":-1.8,"y2":5.0},
      {"g":"F3b","x":0.31,"y":-1.6,"y2":6.5},{"g":"F3b","x":0.35,"y":-1.8,"y2":6.8},{"g":"F3b","x":0.4,"y":-1.3,"y2":7.0},{"g":"F3b","x":0.5,"y":-0.2,"y2":7.5},{"g":"F3b","x":0.6,"y":0.7,"y2":8.0},{"g":"F3b","x":0.69,"y":1.5,"y2":8.6},
      {"g":"F3c","x":0.81,"y":1.8,"y2":8.4},{"g":"F3c","x":0.9,"y":1.2,"y2":8.0},{"g":"F3c","x":1,"y":0.3,"y2":7.4},{"g":"F3c","x":1.1,"y":-0.7,"y2":6.8},{"g":"F3c","x":1.195,"y":-1.8,"y2":5.0},
      {"g":"F3d","x":1.31,"y":-1.6,"y2":6.5},{"g":"F3d","x":1.35,"y":-1.8,"y2":6.8},{"g":"F3d","x":1.4,"y":-1.3,"y2":7.0},{"g":"F3d","x":1.5,"y":-0.2,"y2":7.5},{"g":"F3d","x":1.6,"y":0.7,"y2":8.0},{"g":"F3d","x":1.69,"y":1.5,"y2":8.6},
      {"g":"F3e","x":1.81,"y":1.8,"y2":8.4},{"g":"F3e","x":1.9,"y":1.2,"y2":8.0},{"g":"F3e","x":2,"y":0.5,"y2":7.3},
      {"g":"F4a","x":0,"y":0.9,"y2":5.0},{"g":"F4a","x":0.06,"y":0.2,"y2":5.0},{"g":"F4a","x":0.12,"y":-0.5,"y2":4.0},{"g":"F4a","x":0.16,"y":-0.9,"y2":2.5},
      {"g":"F4b","x":0.32,"y":-1.0,"y2":4.5},{"g":"F4b","x":0.4,"y":-1.1,"y2":5.6},{"g":"F4b","x":0.5,"y":-0.1,"y2":6.0},{"g":"F4b","x":0.6,"y":0.8,"y2":5.6},{"g":"F4b","x":0.66,"y":1.6,"y2":4.0},
      {"g":"F4c","x":0.85,"y":2.3,"y2":5.5},{"g":"F4c","x":0.95,"y":1.4,"y2":6.0},{"g":"F4c","x":1.05,"y":0.5,"y2":5.5},{"g":"F4c","x":1.13,"y":-0.5,"y2":4.0},{"g":"F4c","x":1.16,"y":-0.9,"y2":2.5},
      {"g":"F4d","x":1.32,"y":-1.0,"y2":4.5},{"g":"F4d","x":1.4,"y":-1.1,"y2":5.6},{"g":"F4d","x":1.5,"y":-0.1,"y2":6.0},{"g":"F4d","x":1.6,"y":0.8,"y2":5.6},{"g":"F4d","x":1.66,"y":1.6,"y2":4.0},
      {"g":"F4e","x":1.85,"y":2.3,"y2":5.5},{"g":"F4e","x":1.95,"y":1.4,"y2":6.0},{"g":"F4e","x":2,"y":1.0,"y2":5.8},
      {"g":"F5b","x":0.38,"y":-0.3,"y2":3.0},{"g":"F5b","x":0.47,"y":0.0,"y2":3.8},{"g":"F5b","x":0.56,"y":0.6,"y2":3.2},{"g":"F5b","x":0.6,"y":1.1,"y2":2.2},
      {"g":"F5d","x":1.38,"y":-0.3,"y2":3.0},{"g":"F5d","x":1.47,"y":0.0,"y2":3.8},{"g":"F5d","x":1.56,"y":0.6,"y2":3.2},{"g":"F5d","x":1.6,"y":1.1,"y2":2.2}
    ],
    "cbx": [
      {"lo":-30,"hi":-27.5,"v":-28.75},{"lo":-27.5,"hi":-25,"v":-26.25},{"lo":-25,"hi":-22.5,"v":-23.75},{"lo":-22.5,"hi":-20,"v":-21.25},{"lo":-20,"hi":-17.5,"v":-18.75},{"lo":-17.5,"hi":-15,"v":-16.25},{"lo":-15,"hi":-12.5,"v":-13.75},{"lo":-12.5,"hi":-10,"v":-11.25},{"lo":-10,"hi":-7.5,"v":-8.75},{"lo":-7.5,"hi":-5,"v":-6.25},{"lo":-5,"hi":-2.5,"v":-3.75},{"lo":-2.5,"hi":-1,"v":-1.75},{"lo":-1,"hi":1,"v":0},
      {"lo":1,"hi":2.5,"v":1.75},{"lo":2.5,"hi":5,"v":3.75},{"lo":5,"hi":7.5,"v":6.25},{"lo":7.5,"hi":10,"v":8.75},{"lo":10,"hi":12.5,"v":11.25},{"lo":12.5,"hi":15,"v":13.75},{"lo":15,"hi":17.5,"v":16.25},{"lo":17.5,"hi":20,"v":18.75},{"lo":20,"hi":22.5,"v":21.25},{"lo":22.5,"hi":25,"v":23.75},{"lo":25,"hi":27.5,"v":26.25},{"lo":27.5,"hi":30,"v":28.75}
    ],
    "cby": [
      {"lo":-100,"hi":-91.67,"v":-95.8},{"lo":-91.67,"hi":-83.33,"v":-87.5},{"lo":-83.33,"hi":-75,"v":-79.2},{"lo":-75,"hi":-66.67,"v":-70.8},{"lo":-66.67,"hi":-58.33,"v":-62.5},{"lo":-58.33,"hi":-50,"v":-54.2},{"lo":-50,"hi":-41.67,"v":-45.8},{"lo":-41.67,"hi":-33.33,"v":-37.5},{"lo":-33.33,"hi":-25,"v":-29.2},{"lo":-25,"hi":-16.67,"v":-20.8},{"lo":-16.67,"hi":-8.33,"v":-12.5},{"lo":-8.33,"hi":-3.33,"v":-5.8},{"lo":-3.33,"hi":3.33,"v":0},
      {"lo":3.33,"hi":8.33,"v":5.8},{"lo":8.33,"hi":16.67,"v":12.5},{"lo":16.67,"hi":25,"v":20.8},{"lo":25,"hi":33.33,"v":29.2},{"lo":33.33,"hi":41.67,"v":37.5},{"lo":41.67,"hi":50,"v":45.8},{"lo":50,"hi":58.33,"v":54.2},{"lo":58.33,"hi":66.67,"v":62.5},{"lo":66.67,"hi":75,"v":70.8},{"lo":75,"hi":83.33,"v":79.2},{"lo":83.33,"hi":91.67,"v":87.5},{"lo":91.67,"hi":100,"v":95.8}
    ]
  },
  "columns": 4,
  "spacing": {"row": 15, "column": 13},
  "bounds": "flush",
  "align": "each",
  "resolve": {"scale": {"color": "independent", "opacity": "independent", "x": "independent", "y": "independent"}},
  "concat": [
    {
      "width": 263, "height": 239,
      "title": {"text": "A", "anchor": "start", "frame": "group", "baseline": "top", "offset": -6, "dx": 11, "dy": 26, "fontSize": 21, "fontWeight": "bold"},
      "data": {"name": "pts"},
      "transform": [{"lookup": "g", "from": {"data": {"name": "grp"}, "key": "g", "fields": ["p", "l", "v", "d"]}}, {"filter": "datum.p === 'A'"}],
      "encoding": {
        "x": {"field": "x", "type": "quantitative", "scale": {"domain": [0, 2], "nice": false, "zero": false}, "axis": null},
        "y": {"field": "y", "type": "quantitative", "stack": null, "scale": {"domain": [-5, 10], "reverse": true, "nice": false, "zero": false}, "axis": null},
        "y2": {"field": "y2"},
        "detail": {"field": "g"},
        "color": {"field": "v", "type": "quantitative", "legend": null, "scale": {"type": "threshold", "domain": [-27.5,-25,-22.5,-20,-17.5,-15,-12.5,-10,-7.5,-5,-2.5,-1,1,2.5,5,7.5,10,12.5,15,17.5,20,22.5,25,27.5], "range": ["#00007a","#000096","#0000b4","#0008d2","#0018ec","#0034ff","#005cf4","#0080ea","#00a4ee","#00c8f2","#10e4e0","#30f0b0","#ffffff","#8cf060","#bcf82c","#eef000","#ffd000","#ffa800","#ff7c00","#ff4c00","#ff2000","#f00000","#d80000","#b40000","#900000"]}},
        "opacity": {"field": "d", "type": "quantitative", "legend": null, "scale": {"domain": [0, 1], "range": [0, 1]}}
      },
      "layer": [
        {"transform": [{"filter": "datum.l === 1"}], "mark": {"type": "area", "interpolate": "monotone"},
         "encoding": {
           "x": {"field": "x", "type": "quantitative", "scale": {"domain": [0, 2], "nice": false, "zero": false}, "axis": {"orient": "bottom", "values": [0,0.25,0.5,0.75,1,1.25,1.5,1.75,2], "tickSize": -5, "labels": false, "title": null}},
           "y": {"field": "y", "type": "quantitative", "stack": null, "scale": {"domain": [-5, 10], "reverse": true, "nice": false, "zero": false}, "axis": {"orient": "left", "values": [-5,0,5,10], "tickSize": -5, "labelPadding": 4, "title": "y [mm]", "titlePadding": 6}}
         }},
        {"transform": [{"filter": "datum.l === 2"}], "mark": {"type": "area", "interpolate": "monotone"},
         "encoding": {
           "x": {"field": "x", "type": "quantitative", "scale": {"domain": [0, 2], "nice": false, "zero": false}, "axis": {"orient": "bottom", "values": [0.05,0.1,0.15,0.2,0.3,0.35,0.4,0.45,0.55,0.6,0.65,0.7,0.8,0.85,0.9,0.95,1.05,1.1,1.15,1.2,1.3,1.35,1.4,1.45,1.55,1.6,1.65,1.7,1.8,1.85,1.9,1.95], "tickSize": -3, "labels": false, "title": null}},
           "y": {"field": "y", "type": "quantitative", "stack": null, "scale": {"domain": [-5, 10], "reverse": true, "nice": false, "zero": false}, "axis": {"orient": "left", "values": [-4,-3,-2,-1,1,2,3,4,6,7,8,9], "tickSize": -3, "labels": false, "title": null}}
         }}
      ],
      "resolve": {"axis": {"x": "independent", "y": "independent"}}
    },
    {
      "width": 263, "height": 239,
      "title": {"text": "B", "anchor": "start", "frame": "group", "baseline": "top", "offset": -6, "dx": 11, "dy": 26, "fontSize": 21, "fontWeight": "bold"},
      "data": {"name": "pts"},
      "transform": [{"lookup": "g", "from": {"data": {"name": "grp"}, "key": "g", "fields": ["p", "l", "v", "d"]}}, {"filter": "datum.p === 'B'"}],
      "encoding": {
        "x": {"field": "x", "type": "quantitative", "scale": {"domain": [0, 2], "nice": false, "zero": false}, "axis": null},
        "y": {"field": "y", "type": "quantitative", "stack": null, "scale": {"domain": [-5, 10], "reverse": true, "nice": false, "zero": false}, "axis": null},
        "y2": {"field": "y2"},
        "detail": {"field": "g"},
        "color": {"field": "v", "type": "quantitative", "legend": null, "scale": {"type": "threshold", "domain": [-27.5,-25,-22.5,-20,-17.5,-15,-12.5,-10,-7.5,-5,-2.5,-1,1,2.5,5,7.5,10,12.5,15,17.5,20,22.5,25,27.5], "range": ["#00007a","#000096","#0000b4","#0008d2","#0018ec","#0034ff","#005cf4","#0080ea","#00a4ee","#00c8f2","#10e4e0","#30f0b0","#ffffff","#8cf060","#bcf82c","#eef000","#ffd000","#ffa800","#ff7c00","#ff4c00","#ff2000","#f00000","#d80000","#b40000","#900000"]}},
        "opacity": {"field": "d", "type": "quantitative", "legend": null, "scale": {"domain": [0, 1], "range": [0, 1]}}
      },
      "layer": [
        {"transform": [{"filter": "datum.l === 1"}], "mark": {"type": "area", "interpolate": "monotone"},
         "encoding": {
           "x": {"field": "x", "type": "quantitative", "scale": {"domain": [0, 2], "nice": false, "zero": false}, "axis": {"orient": "bottom", "values": [0,0.25,0.5,0.75,1,1.25,1.5,1.75,2], "tickSize": -5, "labels": false, "title": null}},
           "y": {"field": "y", "type": "quantitative", "stack": null, "scale": {"domain": [-5, 10], "reverse": true, "nice": false, "zero": false}, "axis": {"orient": "left", "values": [-5,0,5,10], "tickSize": -5, "labels": false, "title": null}}
         }},
        {"transform": [{"filter": "datum.l === 2"}], "mark": {"type": "area", "interpolate": "monotone"},
         "encoding": {
           "x": {"field": "x", "type": "quantitative", "scale": {"domain": [0, 2], "nice": false, "zero": false}, "axis": {"orient": "bottom", "values": [0.05,0.1,0.15,0.2,0.3,0.35,0.4,0.45,0.55,0.6,0.65,0.7,0.8,0.85,0.9,0.95,1.05,1.1,1.15,1.2,1.3,1.35,1.4,1.45,1.55,1.6,1.65,1.7,1.8,1.85,1.9,1.95], "tickSize": -3, "labels": false, "title": null}},
           "y": {"field": "y", "type": "quantitative", "stack": null, "scale": {"domain": [-5, 10], "reverse": true, "nice": false, "zero": false}, "axis": {"orient": "left", "values": [-4,-3,-2,-1,1,2,3,4,6,7,8,9], "tickSize": -3, "labels": false, "title": null}}
         }},
        {"transform": [{"filter": "datum.l === 3"}], "mark": {"type": "area", "interpolate": "monotone"}},
        {"transform": [{"filter": "datum.l === 4"}], "mark": {"type": "area", "interpolate": "monotone"}},
        {"transform": [{"filter": "datum.l === 5"}], "mark": {"type": "area", "interpolate": "monotone"}}
      ],
      "resolve": {"axis": {"x": "independent", "y": "independent"}}
    },
    {
      "width": 263, "height": 239,
      "title": {"text": "C", "anchor": "start", "frame": "group", "baseline": "top", "offset": -6, "dx": 11, "dy": 26, "fontSize": 21, "fontWeight": "bold"},
      "data": {"name": "pts"},
      "transform": [{"lookup": "g", "from": {"data": {"name": "grp"}, "key": "g", "fields": ["p", "l", "v", "d"]}}, {"filter": "datum.p === 'C'"}],
      "encoding": {
        "x": {"field": "x", "type": "quantitative", "scale": {"domain": [0, 2], "nice": false, "zero": false}, "axis": null},
        "y": {"field": "y", "type": "quantitative", "stack": null, "scale": {"domain": [-5, 10], "reverse": true, "nice": false, "zero": false}, "axis": null},
        "y2": {"field": "y2"},
        "detail": {"field": "g"},
        "color": {"field": "v", "type": "quantitative", "legend": null, "scale": {"type": "threshold", "domain": [-27.5,-25,-22.5,-20,-17.5,-15,-12.5,-10,-7.5,-5,-2.5,-1,1,2.5,5,7.5,10,12.5,15,17.5,20,22.5,25,27.5], "range": ["#00007a","#000096","#0000b4","#0008d2","#0018ec","#0034ff","#005cf4","#0080ea","#00a4ee","#00c8f2","#10e4e0","#30f0b0","#ffffff","#8cf060","#bcf82c","#eef000","#ffd000","#ffa800","#ff7c00","#ff4c00","#ff2000","#f00000","#d80000","#b40000","#900000"]}},
        "opacity": {"field": "d", "type": "quantitative", "legend": null, "scale": {"domain": [0, 1], "range": [0, 1]}}
      },
      "layer": [
        {"transform": [{"filter": "datum.l === 1"}], "mark": {"type": "area", "interpolate": "monotone"},
         "encoding": {
           "x": {"field": "x", "type": "quantitative", "scale": {"domain": [0, 2], "nice": false, "zero": false}, "axis": {"orient": "bottom", "values": [0,0.25,0.5,0.75,1,1.25,1.5,1.75,2], "tickSize": -5, "labels": false, "title": null}},
           "y": {"field": "y", "type": "quantitative", "stack": null, "scale": {"domain": [-5, 10], "reverse": true, "nice": false, "zero": false}, "axis": {"orient": "left", "values": [-5,0,5,10], "tickSize": -5, "labels": false, "title": null}}
         }},
        {"transform": [{"filter": "datum.l === 2"}], "mark": {"type": "area", "interpolate": "monotone"},
         "encoding": {
           "x": {"field": "x", "type": "quantitative", "scale": {"domain": [0, 2], "nice": false, "zero": false}, "axis": {"orient": "bottom", "values": [0.05,0.1,0.15,0.2,0.3,0.35,0.4,0.45,0.55,0.6,0.65,0.7,0.8,0.85,0.9,0.95,1.05,1.1,1.15,1.2,1.3,1.35,1.4,1.45,1.55,1.6,1.65,1.7,1.8,1.85,1.9,1.95], "tickSize": -3, "labels": false, "title": null}},
           "y": {"field": "y", "type": "quantitative", "stack": null, "scale": {"domain": [-5, 10], "reverse": true, "nice": false, "zero": false}, "axis": {"orient": "left", "values": [-4,-3,-2,-1,1,2,3,4,6,7,8,9], "tickSize": -3, "labels": false, "title": null}}
         }}
      ],
      "resolve": {"axis": {"x": "independent", "y": "independent"}}
    },
    {
      "width": 23, "height": 239,
      "view": {"stroke": null},
      "title": {"text": "Jₓ [A/m²]", "anchor": "start", "frame": "group", "baseline": "alphabetic", "offset": -6, "dy": 14, "fontSize": 14, "fontWeight": "normal"},
      "data": {"name": "cbx"},
      "mark": {"type": "rect", "stroke": "#444", "strokeWidth": 0.4},
      "encoding": {
        "y": {"field": "lo", "type": "quantitative", "scale": {"domain": [-30, 34.3], "nice": false, "zero": false}, "axis": {"orient": "right", "values": [-30,-25,-20,-15,-10,-5,0,5,10,15,20,25,30], "tickSize": 0, "labelPadding": 7, "labelFontSize": 14, "title": null}},
        "y2": {"field": "hi"},
        "color": {"field": "v", "type": "quantitative", "legend": null, "scale": {"type": "threshold", "domain": [-27.5,-25,-22.5,-20,-17.5,-15,-12.5,-10,-7.5,-5,-2.5,-1,1,2.5,5,7.5,10,12.5,15,17.5,20,22.5,25,27.5], "range": ["#00007a","#000096","#0000b4","#0008d2","#0018ec","#0034ff","#005cf4","#0080ea","#00a4ee","#00c8f2","#10e4e0","#30f0b0","#ffffff","#8cf060","#bcf82c","#eef000","#ffd000","#ffa800","#ff7c00","#ff4c00","#ff2000","#f00000","#d80000","#b40000","#900000"]}}
      }
    },
    {
      "width": 263, "height": 239,
      "title": {"text": "D", "anchor": "start", "frame": "group", "baseline": "top", "offset": -6, "dx": 11, "dy": 26, "fontSize": 21, "fontWeight": "bold"},
      "data": {"name": "pts"},
      "transform": [{"lookup": "g", "from": {"data": {"name": "grp"}, "key": "g", "fields": ["p", "l", "v", "d"]}}, {"filter": "datum.p === 'D'"}],
      "encoding": {
        "x": {"field": "x", "type": "quantitative", "scale": {"domain": [0, 2], "nice": false, "zero": false}, "axis": null},
        "y": {"field": "y", "type": "quantitative", "stack": null, "scale": {"domain": [-5, 10], "reverse": true, "nice": false, "zero": false}, "axis": null},
        "y2": {"field": "y2"},
        "detail": {"field": "g"},
        "color": {"field": "v", "type": "quantitative", "legend": null, "scale": {"type": "threshold", "domain": [-91.67,-83.33,-75,-66.67,-58.33,-50,-41.67,-33.33,-25,-16.67,-8.33,-3.33,3.33,8.33,16.67,25,33.33,41.67,50,58.33,66.67,75,83.33,91.67], "range": ["#00007a","#000096","#0000b4","#0008d2","#0018ec","#0034ff","#005cf4","#0080ea","#00a4ee","#00c8f2","#10e4e0","#30f0b0","#ffffff","#8cf060","#bcf82c","#eef000","#ffd000","#ffa800","#ff7c00","#ff4c00","#ff2000","#f00000","#d80000","#b40000","#900000"]}},
        "opacity": {"field": "d", "type": "quantitative", "legend": null, "scale": {"domain": [0, 1], "range": [0, 1]}}
      },
      "layer": [
        {"transform": [{"filter": "datum.l === 1"}], "mark": {"type": "area", "interpolate": "monotone"},
         "encoding": {
           "x": {"field": "x", "type": "quantitative", "scale": {"domain": [0, 2], "nice": false, "zero": false}, "axis": {"orient": "bottom", "values": [0,0.25,0.5,0.75,1,1.25,1.5,1.75,2], "labelExpr": "toString(datum.value)", "tickSize": -5, "labelPadding": 3, "title": "Phase", "titlePadding": 2}},
           "y": {"field": "y", "type": "quantitative", "stack": null, "scale": {"domain": [-5, 10], "reverse": true, "nice": false, "zero": false}, "axis": {"orient": "left", "values": [-5,0,5,10], "tickSize": -5, "labelPadding": 4, "title": "y [mm]", "titlePadding": 6}}
         }},
        {"transform": [{"filter": "datum.l === 2"}], "mark": {"type": "area", "interpolate": "monotone"},
         "encoding": {
           "x": {"field": "x", "type": "quantitative", "scale": {"domain": [0, 2], "nice": false, "zero": false}, "axis": {"orient": "bottom", "values": [0.05,0.1,0.15,0.2,0.3,0.35,0.4,0.45,0.55,0.6,0.65,0.7,0.8,0.85,0.9,0.95,1.05,1.1,1.15,1.2,1.3,1.35,1.4,1.45,1.55,1.6,1.65,1.7,1.8,1.85,1.9,1.95], "tickSize": -3, "labels": false, "title": null}},
           "y": {"field": "y", "type": "quantitative", "stack": null, "scale": {"domain": [-5, 10], "reverse": true, "nice": false, "zero": false}, "axis": {"orient": "left", "values": [-4,-3,-2,-1,1,2,3,4,6,7,8,9], "tickSize": -3, "labels": false, "title": null}}
         }},
        {"transform": [{"filter": "datum.l === 3"}], "mark": {"type": "area", "interpolate": "monotone"}},
        {"transform": [{"filter": "datum.l === 4"}], "mark": {"type": "area", "interpolate": "monotone"}}
      ],
      "resolve": {"axis": {"x": "independent", "y": "independent"}}
    },
    {
      "width": 263, "height": 239,
      "title": {"text": "E", "anchor": "start", "frame": "group", "baseline": "top", "offset": -6, "dx": 11, "dy": 26, "fontSize": 21, "fontWeight": "bold"},
      "data": {"name": "pts"},
      "transform": [{"lookup": "g", "from": {"data": {"name": "grp"}, "key": "g", "fields": ["p", "l", "v", "d"]}}, {"filter": "datum.p === 'E'"}],
      "encoding": {
        "x": {"field": "x", "type": "quantitative", "scale": {"domain": [0, 2], "nice": false, "zero": false}, "axis": null},
        "y": {"field": "y", "type": "quantitative", "stack": null, "scale": {"domain": [-5, 10], "reverse": true, "nice": false, "zero": false}, "axis": null},
        "y2": {"field": "y2"},
        "detail": {"field": "g"},
        "color": {"field": "v", "type": "quantitative", "legend": null, "scale": {"type": "threshold", "domain": [-91.67,-83.33,-75,-66.67,-58.33,-50,-41.67,-33.33,-25,-16.67,-8.33,-3.33,3.33,8.33,16.67,25,33.33,41.67,50,58.33,66.67,75,83.33,91.67], "range": ["#00007a","#000096","#0000b4","#0008d2","#0018ec","#0034ff","#005cf4","#0080ea","#00a4ee","#00c8f2","#10e4e0","#30f0b0","#ffffff","#8cf060","#bcf82c","#eef000","#ffd000","#ffa800","#ff7c00","#ff4c00","#ff2000","#f00000","#d80000","#b40000","#900000"]}},
        "opacity": {"field": "d", "type": "quantitative", "legend": null, "scale": {"domain": [0, 1], "range": [0, 1]}}
      },
      "layer": [
        {"transform": [{"filter": "datum.l === 1"}], "mark": {"type": "area", "interpolate": "monotone"},
         "encoding": {
           "x": {"field": "x", "type": "quantitative", "scale": {"domain": [0, 2], "nice": false, "zero": false}, "axis": {"orient": "bottom", "values": [0,0.25,0.5,0.75,1,1.25,1.5,1.75,2], "labelExpr": "toString(datum.value)", "tickSize": -5, "labelPadding": 3, "title": "Phase", "titlePadding": 2}},
           "y": {"field": "y", "type": "quantitative", "stack": null, "scale": {"domain": [-5, 10], "reverse": true, "nice": false, "zero": false}, "axis": {"orient": "left", "values": [-5,0,5,10], "tickSize": -5, "labels": false, "title": null}}
         }},
        {"transform": [{"filter": "datum.l === 2"}], "mark": {"type": "area", "interpolate": "monotone"},
         "encoding": {
           "x": {"field": "x", "type": "quantitative", "scale": {"domain": [0, 2], "nice": false, "zero": false}, "axis": {"orient": "bottom", "values": [0.05,0.1,0.15,0.2,0.3,0.35,0.4,0.45,0.55,0.6,0.65,0.7,0.8,0.85,0.9,0.95,1.05,1.1,1.15,1.2,1.3,1.35,1.4,1.45,1.55,1.6,1.65,1.7,1.8,1.85,1.9,1.95], "tickSize": -3, "labels": false, "title": null}},
           "y": {"field": "y", "type": "quantitative", "stack": null, "scale": {"domain": [-5, 10], "reverse": true, "nice": false, "zero": false}, "axis": {"orient": "left", "values": [-4,-3,-2,-1,1,2,3,4,6,7,8,9], "tickSize": -3, "labels": false, "title": null}}
         }},
        {"transform": [{"filter": "datum.l === 3"}], "mark": {"type": "area", "interpolate": "monotone"}},
        {"transform": [{"filter": "datum.l === 4"}], "mark": {"type": "area", "interpolate": "monotone"}}
      ],
      "resolve": {"axis": {"x": "independent", "y": "independent"}}
    },
    {
      "width": 263, "height": 239,
      "title": {"text": "F", "anchor": "start", "frame": "group", "baseline": "top", "offset": -6, "dx": 11, "dy": 26, "fontSize": 21, "fontWeight": "bold"},
      "data": {"name": "pts"},
      "transform": [{"lookup": "g", "from": {"data": {"name": "grp"}, "key": "g", "fields": ["p", "l", "v", "d"]}}, {"filter": "datum.p === 'F'"}],
      "encoding": {
        "x": {"field": "x", "type": "quantitative", "scale": {"domain": [0, 2], "nice": false, "zero": false}, "axis": null},
        "y": {"field": "y", "type": "quantitative", "stack": null, "scale": {"domain": [-5, 10], "reverse": true, "nice": false, "zero": false}, "axis": null},
        "y2": {"field": "y2"},
        "detail": {"field": "g"},
        "color": {"field": "v", "type": "quantitative", "legend": null, "scale": {"type": "threshold", "domain": [-91.67,-83.33,-75,-66.67,-58.33,-50,-41.67,-33.33,-25,-16.67,-8.33,-3.33,3.33,8.33,16.67,25,33.33,41.67,50,58.33,66.67,75,83.33,91.67], "range": ["#00007a","#000096","#0000b4","#0008d2","#0018ec","#0034ff","#005cf4","#0080ea","#00a4ee","#00c8f2","#10e4e0","#30f0b0","#ffffff","#8cf060","#bcf82c","#eef000","#ffd000","#ffa800","#ff7c00","#ff4c00","#ff2000","#f00000","#d80000","#b40000","#900000"]}},
        "opacity": {"field": "d", "type": "quantitative", "legend": null, "scale": {"domain": [0, 1], "range": [0, 1]}}
      },
      "layer": [
        {"transform": [{"filter": "datum.l === 1"}], "mark": {"type": "area", "interpolate": "monotone"},
         "encoding": {
           "x": {"field": "x", "type": "quantitative", "scale": {"domain": [0, 2], "nice": false, "zero": false}, "axis": {"orient": "bottom", "values": [0,0.25,0.5,0.75,1,1.25,1.5,1.75,2], "labelExpr": "toString(datum.value)", "tickSize": -5, "labelPadding": 3, "title": "Phase", "titlePadding": 2}},
           "y": {"field": "y", "type": "quantitative", "stack": null, "scale": {"domain": [-5, 10], "reverse": true, "nice": false, "zero": false}, "axis": {"orient": "left", "values": [-5,0,5,10], "tickSize": -5, "labels": false, "title": null}}
         }},
        {"transform": [{"filter": "datum.l === 2"}], "mark": {"type": "area", "interpolate": "monotone"},
         "encoding": {
           "x": {"field": "x", "type": "quantitative", "scale": {"domain": [0, 2], "nice": false, "zero": false}, "axis": {"orient": "bottom", "values": [0.05,0.1,0.15,0.2,0.3,0.35,0.4,0.45,0.55,0.6,0.65,0.7,0.8,0.85,0.9,0.95,1.05,1.1,1.15,1.2,1.3,1.35,1.4,1.45,1.55,1.6,1.65,1.7,1.8,1.85,1.9,1.95], "tickSize": -3, "labels": false, "title": null}},
           "y": {"field": "y", "type": "quantitative", "stack": null, "scale": {"domain": [-5, 10], "reverse": true, "nice": false, "zero": false}, "axis": {"orient": "left", "values": [-4,-3,-2,-1,1,2,3,4,6,7,8,9], "tickSize": -3, "labels": false, "title": null}}
         }},
        {"transform": [{"filter": "datum.l === 3"}], "mark": {"type": "area", "interpolate": "monotone"}},
        {"transform": [{"filter": "datum.l === 4"}], "mark": {"type": "area", "interpolate": "monotone"}},
        {"transform": [{"filter": "datum.l === 5"}], "mark": {"type": "area", "interpolate": "monotone"}}
      ],
      "resolve": {"axis": {"x": "independent", "y": "independent"}}
    },
    {
      "width": 23, "height": 239,
      "view": {"stroke": null},
      "title": {"text": "-Jy [A/m²]", "anchor": "start", "frame": "group", "baseline": "alphabetic", "offset": -15, "dx": -4, "dy": 12, "fontSize": 14, "fontWeight": "normal"},
      "data": {"name": "cby"},
      "mark": {"type": "rect", "stroke": "#444", "strokeWidth": 0.4},
      "encoding": {
        "y": {"field": "lo", "type": "quantitative", "scale": {"domain": [-128, 127.1], "nice": false, "zero": false}, "axis": {"orient": "right", "values": [-100,-80,-60,-40,-20,0,20,40,60,80,100], "tickSize": 0, "labelPadding": 7, "labelFontSize": 14, "title": null}},
        "y2": {"field": "hi"},
        "color": {"field": "v", "type": "quantitative", "legend": null, "scale": {"type": "threshold", "domain": [-91.67,-83.33,-75,-66.67,-58.33,-50,-41.67,-33.33,-25,-16.67,-8.33,-3.33,3.33,8.33,16.67,25,33.33,41.67,50,58.33,66.67,75,83.33,91.67], "range": ["#00007a","#000096","#0000b4","#0008d2","#0018ec","#0034ff","#005cf4","#0080ea","#00a4ee","#00c8f2","#10e4e0","#30f0b0","#ffffff","#8cf060","#bcf82c","#eef000","#ffd000","#ffa800","#ff7c00","#ff4c00","#ff2000","#f00000","#d80000","#b40000","#900000"]}}
      }
    }
  ]
}
